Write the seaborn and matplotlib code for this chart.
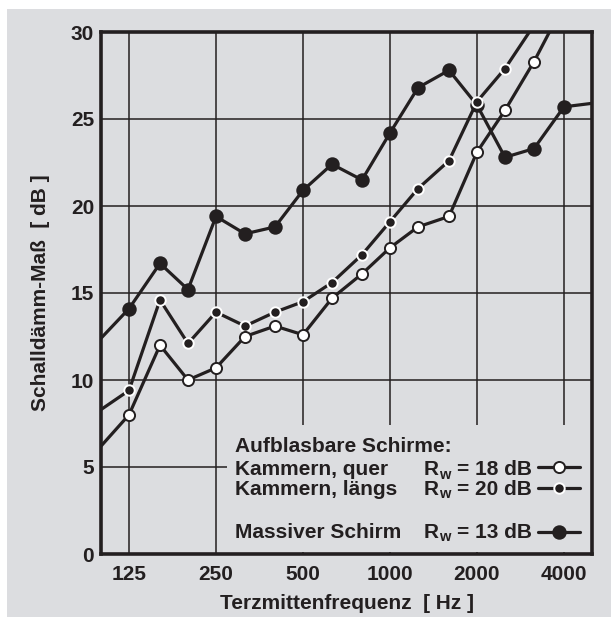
import numpy as np
import pandas as pd
import matplotlib
matplotlib.use("Agg")
import matplotlib.pyplot as plt
from matplotlib.patches import Rectangle
from matplotlib.ticker import NullLocator
import seaborn as sns

# third-octave band centre frequencies (Hz)
freqs = [100, 125, 160, 200, 250, 315, 400, 500, 630, 800,
         1000, 1250, 1600, 2000, 2500, 3150, 4000, 5000]

# sound reduction index in dB
massiv = [12.4, 14.1, 16.7, 15.2, 19.4, 18.4, 18.8, 20.9, 22.4, 21.5,
          24.2, 26.8, 27.8, 25.8, 22.8, 23.3, 25.7, 25.9]
laengs = [8.3, 9.4, 14.6, 12.1, 13.9, 13.1, 13.9, 14.5, 15.6, 17.2,
          19.1, 21.0, 22.6, 26.0, 27.9, 30.4]
quer = [6.2, 8.0, 12.0, 10.0, 10.7, 12.5, 13.1, 12.6, 14.7, 16.1,
        17.6, 18.8, 19.4, 23.1, 25.5, 28.3, 31.6]

xticks = [125, 250, 500, 1000, 2000, 4000]
xticklabels = ["125", "250", "500", "1000", "2000", "4000"]
yticks = [0, 5, 10, 15, 20, 25, 30]

legend_header = "Aufblasbare Schirme:"
legend_names = ["Kammern, quer", "Kammern, längs", "Massiver Schirm"]
legend_rw = ["18", "20", "13"]

INK = "#231f20"
GREY = "#dcdde0"

sns.set_style("white")
plt.rcParams["font.family"] = ["Liberation Sans", "DejaVu Sans"]
plt.rcParams["font.weight"] = "bold"

fig = plt.figure(figsize=(6.11, 6.17), dpi=100, facecolor="white")
fig.patches.append(Rectangle((7 / 611, 0), 1, (617 - 9) / 617, transform=fig.transFigure,
                             facecolor=GREY, edgecolor="none", zorder=-5))
ax = fig.add_axes([101 / 611, 1 - 554 / 617, 491 / 611, 522 / 617])
ax.set_facecolor(GREY)


def draw_series(vals, face, edge, size, z):
    df = pd.DataFrame({"f": freqs[:len(vals)], "R": vals})
    sns.lineplot(data=df, x="f", y="R", ax=ax, color=INK, lw=2.3, legend=False,
                 estimator=None, sort=False, zorder=z)
    shown = df[(df["f"] >= 125) & (df["f"] <= 4000) & (df["R"] <= 30)]
    sns.scatterplot(data=shown, x="f", y="R", ax=ax, s=size ** 2, color=face,
                    edgecolor=edge, linewidth=1.4, legend=False, zorder=z + 0.5)


draw_series(massiv, INK, INK, 9.0, 3)
draw_series(laengs, INK, "white", 7.5, 4)
draw_series(quer, "white", INK, 8.0, 5)

ax.set_xscale("log")
ax.set_xlim(100, 5000)
ax.set_ylim(0, 30)
ax.set_xticks(xticks)
ax.set_xticklabels(xticklabels)
ax.xaxis.set_minor_locator(NullLocator())
ax.set_yticks(yticks)
ax.tick_params(length=0, labelsize=15, colors=INK, pad=8)
ax.tick_params(axis="y", pad=5)

ax.set_axisbelow(True)
ax.grid(True, color=INK, lw=1.1)
for sp in ax.spines.values():
    sp.set_linewidth(2.6)
    sp.set_color(INK)

# grey panel behind the legend hides the grid
ax.add_patch(Rectangle((0.257, 0.003), 0.74, 0.244, transform=ax.transAxes,
                       facecolor=GREY, edgecolor="none", zorder=1))

ax.set_xlabel("Terzmittenfrequenz  [ Hz ]", fontsize=15, fontweight="bold",
              color=INK, labelpad=7)
ax.set_ylabel("Schalldämm-Maß  [ dB ]", fontsize=15, fontweight="bold",
              color=INK, labelpad=15)

# legend
txt = dict(transform=ax.transAxes, fontweight="bold", color=INK,
           va="baseline", zorder=6)
ax.text(0.273, 0.195, legend_header, fontsize=15, **txt)
base_y = [0.151, 0.113, 0.031]
sym_y = [0.167, 0.126, 0.042]
styles = [("white", INK, 8.0), (INK, "white", 7.5), (INK, INK, 9.0)]
for name, rw, by, sy, (fc, ec, ms) in zip(legend_names, legend_rw, base_y, sym_y, styles):
    ax.text(0.273, by, name, fontsize=15, **txt)
    ax.text(0.658, by, "R", fontsize=15, **txt)
    ax.text(0.689, by - 0.0065, "w", fontsize=10.5, **txt)
    ax.text(0.725, by, "= " + rw + " dB", fontsize=15, **txt)
    ax.plot([0.890, 0.976], [sy, sy], transform=ax.transAxes, color=INK, lw=2.3,
            zorder=6, clip_on=False)
    ax.plot([0.933], [sy], transform=ax.transAxes, marker="o", ms=ms, mfc=fc,
            mec=ec, mew=1.4, zorder=7, clip_on=False)

fig.savefig("out.png", dpi=100, facecolor=fig.get_facecolor())
